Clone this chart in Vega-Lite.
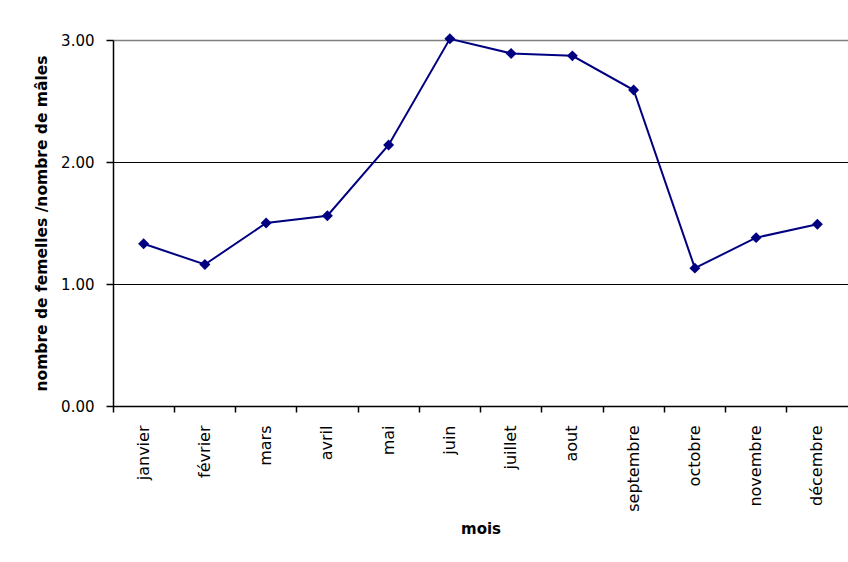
{
  "$schema": "https://vega.github.io/schema/vega-lite/v6.json",
  "autosize": "none",
  "width": 735,
  "height": 366,
  "padding": {"left": 113, "top": 40, "right": 0, "bottom": 156},
  "background": "white",
  "config": {
    "view": {"stroke": null},
    "font": "DejaVu Sans",
    "axis": {"labelFont": "DejaVu Sans", "titleFont": "DejaVu Sans", "labelColor": "black", "titleColor": "black", "domainColor": "black", "tickColor": "black"}
  },
  "data": {
    "values": [
      {"mois": "janvier", "ratio": 1.33},
      {"mois": "février", "ratio": 1.16},
      {"mois": "mars", "ratio": 1.50},
      {"mois": "avril", "ratio": 1.56},
      {"mois": "mai", "ratio": 2.14},
      {"mois": "juin", "ratio": 3.01},
      {"mois": "juillet", "ratio": 2.89},
      {"mois": "aout", "ratio": 2.87},
      {"mois": "septembre", "ratio": 2.59},
      {"mois": "octobre", "ratio": 1.13},
      {"mois": "novembre", "ratio": 1.38},
      {"mois": "décembre", "ratio": 1.49}
    ]
  },
  "encoding": {
    "x": {
      "field": "mois",
      "type": "ordinal",
      "sort": null,
      "scale": {"type": "band", "paddingInner": 0, "paddingOuter": 0},
      "axis": {
        "title": "mois",
        "titleFontSize": 15,
        "titleFontWeight": "bold",
        "titlePadding": 10,
        "labelAngle": -90,
        "labelFontSize": 16,
        "labelPadding": 13,
        "tickSize": 6,
        "tickWidth": 1.5,
        "domainWidth": 1.5,
        "bandPosition": 0,
        "grid": false
      }
    },
    "y": {
      "field": "ratio",
      "type": "quantitative",
      "scale": {"domain": [0, 3], "nice": false, "zero": true},
      "axis": {
        "title": "nombre de femelles /nombre de mâles",
        "titleFontSize": 15.5,
        "titleFontWeight": "bold",
        "titlePadding": 11,
        "values": [0, 1, 2, 3],
        "format": ".2f",
        "labelFontSize": 15,
        "labelPadding": 12,
        "tickSize": 7,
        "tickWidth": 1.5,
        "domainWidth": 1.5,
        "grid": true,
        "gridColor": {"condition": {"test": "datum.value === 3", "value": "#808080"}, "value": "black"},
        "gridWidth": {"condition": {"test": "datum.value === 3", "value": 1.5}, "value": 1},
        "gridOpacity": 1
      }
    }
  },
  "layer": [
    {"mark": {"type": "line", "color": "#000080", "strokeWidth": 2}},
    {"mark": {"type": "point", "shape": "diamond", "filled": true, "color": "#000080", "size": 120, "opacity": 1}}
  ]
}
